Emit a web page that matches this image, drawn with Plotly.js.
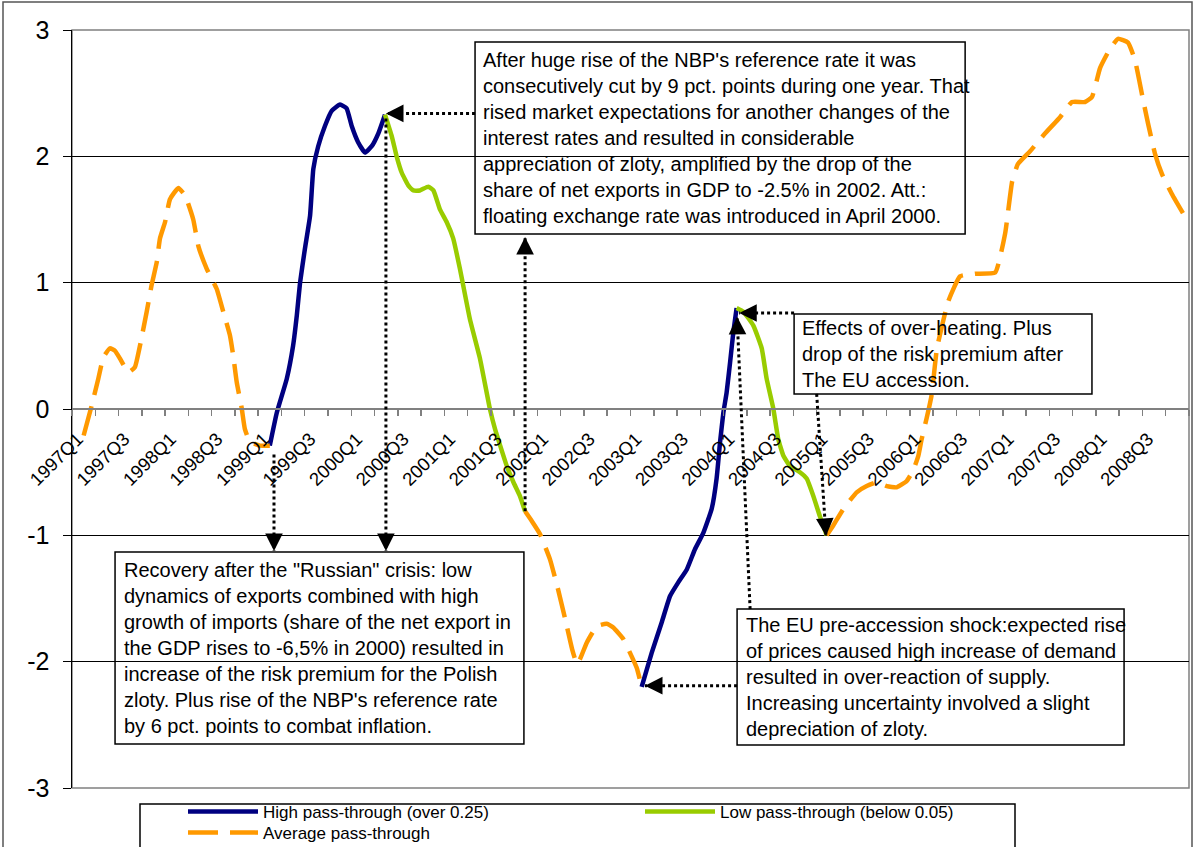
<!DOCTYPE html>
<html>
<head>
<meta charset="utf-8">
<script src="https://cdn.plot.ly/plotly-3.0.1.min.js"></script>
<style>html,body{margin:0;padding:0;background:#fff;}#chart{width:1195px;height:847px;}</style>
</head>
<body>
<div id="chart"></div>
<script>
// Quarter categories (x = quarter index, 0 = 1997Q1)
const quarterLabels = ['1997Q1','1997Q3','1998Q1','1998Q3','1999Q1','1999Q3','2000Q1','2000Q3',
  '2001Q1','2001Q3','2002Q1','2002Q3','2003Q1','2003Q3','2004Q1','2004Q3','2005Q1','2005Q3',
  '2006Q1','2006Q3','2007Q1','2007Q3','2008Q1','2008Q3'];
const quarterLabelPos = [0,2,4,6,8,10,12,14,16,18,20,22,24,26,28,30,32,34,36,38,40,42,44,46];
const yTickVals = [-3,-2,-1,0,1,2,3];
const yTickText = ['-3','-2','-1','0','1','2','3'];

// Average pass-through segments
const avgX1 = [0,0.35,0.63,0.85,1.13,1.35,1.56,1.92,2.2,2.42,2.71,2.92,3.14,3.28,3.5,3.71,4.07,4.36,4.71,4.93,5.29,5.72,6.0,6.29,6.43,6.58,6.79,6.93,7.15,7.58,8.0];
const avgY1 = [-0.21,0.03,0.24,0.41,0.48,0.46,0.40,0.29,0.33,0.50,0.77,0.98,1.16,1.35,1.48,1.66,1.75,1.69,1.50,1.29,1.11,0.95,0.77,0.58,0.42,0.21,0.01,-0.16,-0.26,-0.29,-0.29];
const avgX2 = [18.97,19.27,19.61,20.04,20.39,20.69,20.99,21.2,21.33,21.62,22.05,22.48,22.76,23.19,23.48,23.77,23.98];
const avgY2 = [-0.81,-0.89,-0.99,-1.19,-1.43,-1.66,-1.90,-2.02,-1.98,-1.85,-1.72,-1.70,-1.73,-1.82,-1.93,-2.05,-2.20];
const avgX3 = [31.93,32.22,32.65,33.22,33.65,34.08,34.51,34.94,35.37,35.66,35.87,36.01,36.23,36.44,36.52,36.67,37.15,37.66,38.3,39.17,39.6,39.9,40.15,40.67,41.31,41.96,42.47,43.03,43.33,43.68,44.1,44.45,44.88,45.18,45.48,45.74,46.04,46.34,46.77,47.24];
const avgY3 = [-1.0,-0.92,-0.79,-0.66,-0.61,-0.58,-0.61,-0.62,-0.57,-0.48,-0.37,-0.24,-0.07,0.11,0.24,0.48,0.85,1.05,1.07,1.08,1.39,1.8,1.94,2.04,2.18,2.31,2.43,2.43,2.47,2.7,2.85,2.93,2.9,2.76,2.49,2.26,2.02,1.86,1.70,1.55];

// High pass-through segments
const highX1 = [8.0,8.3,8.73,9.0,9.16,9.3,9.51,9.73,9.87,10.08,10.37,10.66,11.02,11.3,11.52,11.8,12.09,12.38,12.66,12.95];
const highY1 = [-0.29,-0.03,0.24,0.50,0.74,1.0,1.27,1.53,1.90,2.08,2.24,2.36,2.41,2.38,2.24,2.11,2.03,2.08,2.18,2.33];
const highX2 = [23.98,24.41,24.84,25.2,25.56,25.92,26.27,26.63,26.99,27.2,27.35,27.49,27.63,27.78,27.92,28.06];
const highY2 = [-2.20,-1.93,-1.69,-1.48,-1.37,-1.27,-1.11,-0.98,-0.79,-0.55,-0.26,-0.03,0.13,0.37,0.61,0.80];

// Low pass-through segments
const lowX1 = [12.95,13.24,13.45,13.67,13.95,14.17,14.45,14.81,15.03,15.31,15.6,15.88,16.17,16.6,17.03,17.46,17.68,17.9,18.18,18.47,18.75,18.97];
const lowY1 = [2.33,2.16,2.0,1.87,1.77,1.73,1.73,1.76,1.73,1.58,1.48,1.35,1.11,0.71,0.40,0.0,-0.16,-0.29,-0.45,-0.58,-0.69,-0.81];
const lowX2 = [28.06,28.35,28.78,29.14,29.35,29.64,29.85,30.07,30.35,30.78,31.07,31.36,31.64,31.93];
const lowY2 = [0.80,0.77,0.66,0.48,0.24,0.0,-0.24,-0.37,-0.45,-0.50,-0.55,-0.69,-0.85,-1.0];

function join(...segs){ const out=[]; segs.forEach((s,i)=>{ if(i>0) out.push(null); out.push(...s); }); return out; }

const traces = [
  {name:'High pass-through (over 0.25)', x:join(highX1,highX2), y:join(highY1,highY2), type:'scatter', mode:'lines',
   line:{color:'#000080', width:4.5, shape:'spline', smoothing:0.4}, connectgaps:false, legend:'legend'},
  {name:'Low pass-through (below 0.05)', x:join(lowX1,lowX2), y:join(lowY1,lowY2), type:'scatter', mode:'lines',
   line:{color:'#99CC00', width:4.5, shape:'spline', smoothing:0.4}, connectgaps:false, legend:'legend'},
  {name:'Average pass-through', x:join(avgX1,avgX2,avgX3), y:join(avgY1,avgY2,avgY3), type:'scatter', mode:'lines',
   line:{color:'#FF9900', width:4.5, dash:'30px,12px', shape:'spline', smoothing:0.4}, connectgaps:false, legend:'legend2'}
];

// pixel helpers for frame elements (paper coordinates)
const L=72, R=1189, T=30, B=788;
const px = v => (v-L)/(R-L);
const py = v => (B-v)/(B-T);

const dotted = (x0,y0,x1,y1) => ({type:'line', xref:'x', yref:'y', x0, y0, x1, y1, line:{color:'black', width:3, dash:'dot'}});
const head = (x,y,ax,ay) => ({x, y, xref:'x', yref:'y', ax, ay, text:'', showarrow:true, arrowhead:2, arrowsize:1.6, arrowwidth:2.2, arrowcolor:'black', standoff:0});
const boxRect = (x0,y0,x1,y1) => ({type:'rect', xref:'x', yref:'y', x0, y0, x1, y1, line:{color:'black', width:1.5}, fillcolor:'rgba(0,0,0,0)'});
const boxText = (x,y,txt) => ({x, y, xref:'x', yref:'y', xanchor:'left', yanchor:'middle', showarrow:false, text:txt,
   align:'left', borderpad:0, font:{size:20, color:'black'}});

const shapes = [
  {type:'rect', xref:'paper', yref:'paper', x0:0, y0:0, x1:1, y1:1, line:{color:'#808080', width:1.5}, layer:'below'},
  {type:'rect', xref:'paper', yref:'paper', x0:px(3), y0:py(2), x1:px(1192), y1:py(860), line:{color:'#555555', width:1.5}},
  {type:'rect', xref:'paper', yref:'paper', x0:px(140), y0:py(804), x1:px(1015), y1:py(870), line:{color:'black', width:1.5}},
  boxRect(16.82,2.906,37.88,1.386),
  boxRect(1.35,-1.132,18.92,-2.652),
  boxRect(30.53,0.752,43.33,0.119),
  boxRect(28.08,-1.584,44.71,-2.660),
  dotted(16.82,2.34,12.99,2.34),
  dotted(12.99,2.30,12.99,-1.124),
  dotted(8.18,-0.36,8.18,-1.124),
  dotted(18.97,-0.81,18.97,1.362),
  dotted(30.53,0.76,28.17,0.76),
  dotted(28.64,-1.584,28.08,0.73),
  dotted(31.5,0.119,31.9,-1.005),
  dotted(28.08,-2.19,24.12,-2.19)
];

const annotations = [
  boxText(17.11,2.146,"After huge rise of the NBP's reference rate it was<br>consecutively cut by 9 pct. points during one year. That<br>rised market expectations for another changes of the<br>interest rates and resulted in considerable<br>appreciation of zloty, amplified by the drop of the<br>share of net exports in GDP to -2.5% in 2002. Att.:<br>floating exchange rate was introduced in April 2000."),
  boxText(1.70,-1.892,"Recovery after the \"Russian\" crisis: low<br>dynamics of exports combined with high<br>growth of imports (share of the net export in<br>the GDP rises to -6,5% in 2000) resulted in<br>increase of the risk premium for the Polish<br>zloty. Plus rise of the NBP's reference rate<br>by 6 pct. points to combat inflation."),
  boxText(30.81,0.435,"Effects of over-heating. Plus<br>drop of the risk premium after<br>The EU accession."),
  boxText(28.42,-2.122,"The EU pre-accession shock:expected rise<br>of prices caused high increase of demand<br>resulted in over-reaction of supply.<br>Increasing uncertainty involved a slight<br>depreciation of zloty."),
  head(12.99,2.34,12,0),
  head(12.99,-1.124,0,-12),
  head(8.18,-1.124,0,-12),
  head(18.97,1.362,0,12),
  head(28.17,0.76,12,0),
  head(28.08,0.73,0.3,12),
  head(31.9,-1.005,-0.8,-12),
  head(24.12,-2.19,12,0)
];

const legendCommon = {orientation:'h', x:px(183), xanchor:'left', yanchor:'top', bgcolor:'rgba(0,0,0,0)', borderwidth:0,
    font:{size:17, color:'black'}, entrywidth:372, entrywidthmode:'pixels', itemwidth:70, traceorder:'normal'};

const layout = {
  width:1195, height:847,
  margin:{l:L, r:1195-R, t:T, b:847-B, autoexpand:false},
  paper_bgcolor:'white', plot_bgcolor:'white',
  font:{family:'"Liberation Sans", Arial, sans-serif', color:'black'},
  showlegend:true,
  xaxis:{range:[-0.5,47.5], tickmode:'array', tickvals:quarterLabelPos, ticktext:quarterLabels, tickangle:-45,
    ticks:'', showgrid:false, zeroline:false, showline:true, linecolor:'#808080', linewidth:2, automargin:false,
    anchor:'free', position:0.5, tickfont:{size:18.5, color:'black'}, ticklabelstandoff:11, ticklabelshift:-6,
    minor:{tickmode:'linear', tick0:-0.5, dtick:1, ticks:'outside', ticklen:6, tickcolor:'#808080', tickwidth:1.5, showgrid:false}},
  yaxis:{range:[-3,3], tickmode:'array', tickvals:yTickVals, ticktext:yTickText, ticks:'outside', ticklen:8, tickcolor:'black', tickwidth:1,
    showgrid:true, gridcolor:'black', gridwidth:1, zeroline:false, showline:true, linecolor:'black', linewidth:1.5, automargin:false,
    tickfont:{size:25, color:'black'}, ticklabelstandoff:8},
  legend:Object.assign({}, legendCommon, {y:py(794)}),
  legend2:Object.assign({}, legendCommon, {y:py(815)}),
  shapes, annotations
};

Plotly.newPlot('chart', traces, layout, {staticPlot:true});
</script>
</body>
</html>
